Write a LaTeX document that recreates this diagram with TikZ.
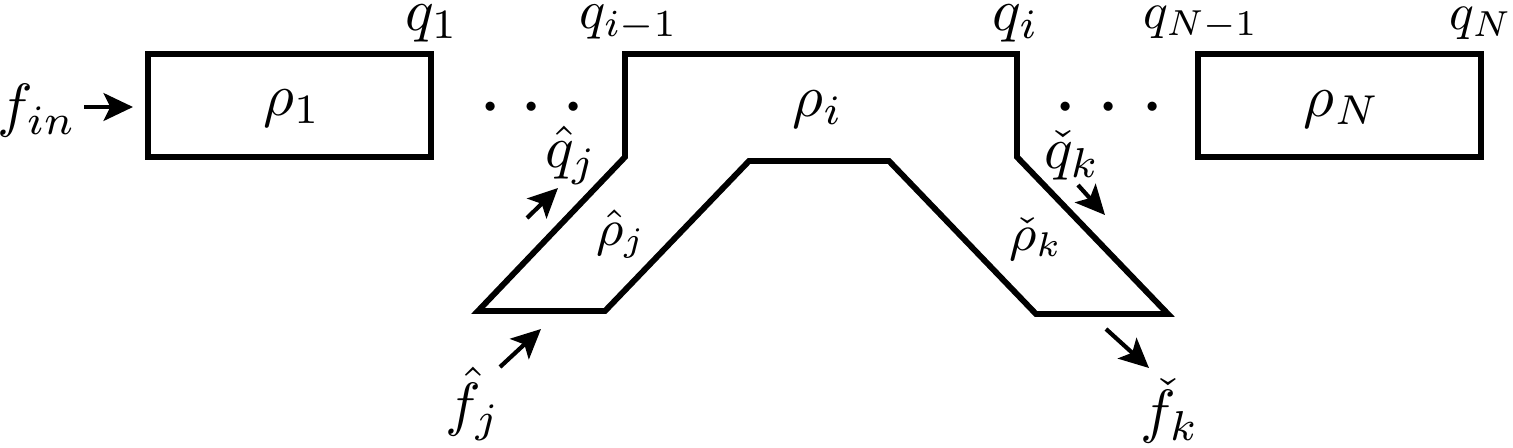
\documentclass[tikz,border=0pt]{standalone}
\usetikzlibrary{arrows.meta}
\tikzset{
  x=0.2381pt,y=-0.2381pt,
  outline/.style={line width=1.4pt,line join=miter,miter limit=10},
  flow/.style={line width=1pt,-{Stealth[length=7pt,width=6.6pt,inset=1.6pt]}},
  lab/.style={inner sep=0pt,anchor=center,transform shape,scale=1.42},
  midlab/.style={inner sep=0pt,anchor=center,transform shape,scale=1.3},
  lowlab/.style={inner sep=0pt,anchor=center,transform shape,scale=1.23},
  smalllab/.style={inner sep=0pt,anchor=center,font=\small,transform shape,scale=1.36},
  dotslab/.style={inner sep=0pt,anchor=center,font=\huge}
}
\begin{document}
\begin{tikzpicture}
\useasboundingbox (0,0) rectangle (1513,448);
% boxes
\node[outline,draw,inner sep=0pt,minimum width=283*0.2381pt,minimum height=103*0.2381pt] (b1) at (289.5,105.5) {};
\node[outline,draw,inner sep=0pt,minimum width=283*0.2381pt,minimum height=103*0.2381pt] (bN) at (1339.5,105.5) {};
\draw[outline] (625,54) -- (1017,54) -- (1017,157) -- (1168,314) -- (1036,314) -- (889,161) -- (749,161) -- (605,311) -- (478,311) -- (625,157) -- cycle;
% labels
\node[lab] (r1) at (292,108) {$\rho_1$};
\node[lab] (ri) at (818,109) {$\rho_i$};
\node[lab] (rN) at (1342,109) {$\rho_N$};
\node[lab] (q1) at (432,23) {$q_1$};
\node[midlab] (qim) at (629,23) {$q_{i-1}$};
\node[lab] (qi) at (1016,23) {$q_i$};
\node[lowlab] (qNm) at (1201,23) {$q_{N-1}$};
\node[lowlab] (qN) at (1481,23) {$q_N$};
\node[lab] (fin) at (37,111) {$f_{in}$};
\node[dotslab] (dl) at (532,109) {${\cdot}\hspace{4.1pt}{\cdot}\hspace{4.1pt}{\cdot}$};
\node[dotslab] (dr) at (1109,109) {${\cdot}\hspace{4.6pt}{\cdot}\hspace{4.6pt}{\cdot}$};
\node[lab] (qh) at (571,155) {$\hat q_j$};
\node[lab] (qc) at (1072,156) {$\check q_k$};
\node[smalllab] (rh) at (621,234) {$\hat\rho_j$};
\node[smalllab] (rc) at (1036,239) {$\check\rho_k$};
\node[lab] (fh) at (473,404) {$\hat f_j$};
\node[lab] (fc) at (1170,411) {$\check f_k$};
% arrows
\coordinate (a1) at (84,107); \coordinate (a2) at (133,107);
\coordinate (c1) at (527,218); \coordinate (c2) at (558,188);
\coordinate (d1) at (500,367); \coordinate (d2) at (541,329);
\coordinate (e1) at (1078,185); \coordinate (e2) at (1105,215);
\coordinate (g1) at (1106,329); \coordinate (g2) at (1149,368);
\draw[flow] (a1) -- (a2);
\draw[flow] (c1) -- (c2);
\draw[flow] (d1) -- (d2);
\draw[flow] (e1) -- (e2);
\draw[flow] (g1) -- (g2);
\end{tikzpicture}
\end{document}
